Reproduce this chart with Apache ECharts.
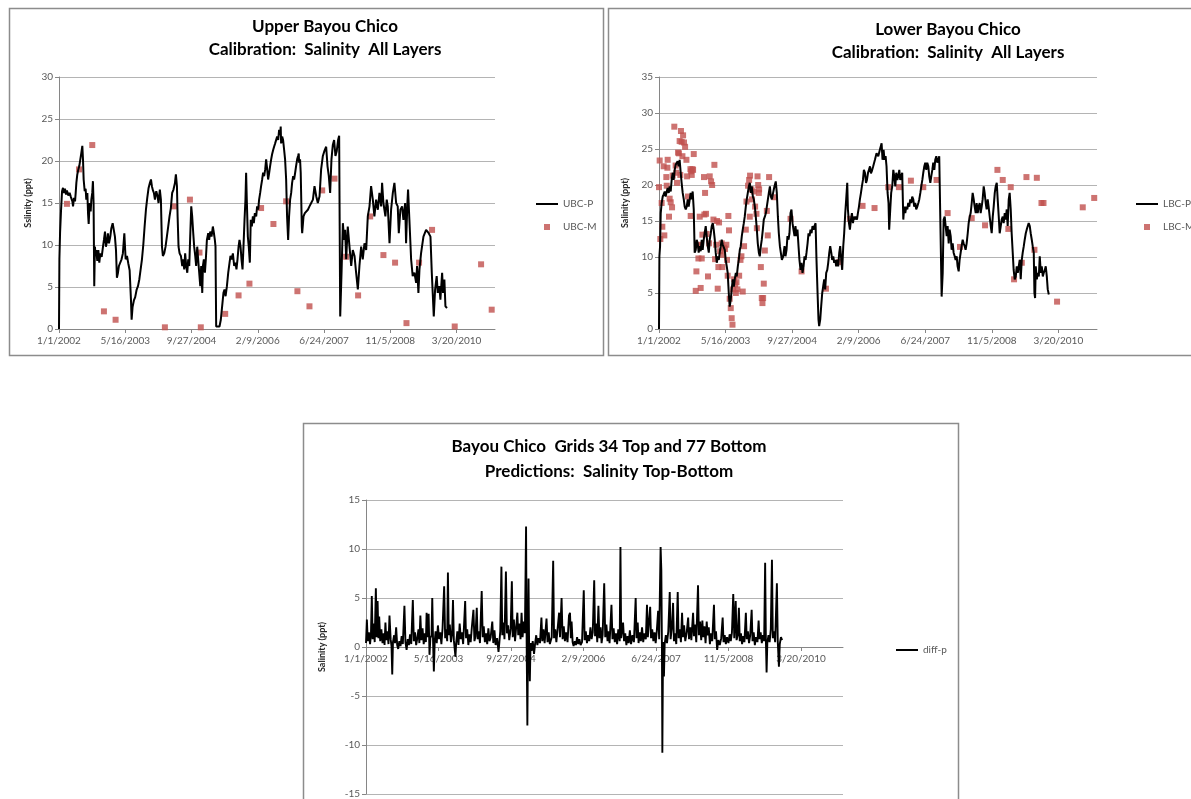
<!DOCTYPE html>
<html>
<head>
<meta charset="utf-8">
<script src="https://cdn.jsdelivr.net/npm/echarts@6/dist/echarts.min.js"></script>
<style>
html,body{margin:0;padding:0;background:#fff;}
#chart{width:1191px;height:799px;}
</style>
</head>
<body>
<div id="chart"></div>
<script>
// x values are days counted from 1/1/2002
const START_DATE = Date.UTC(2002, 0, 1);
const DATE_TICKS = [0, 500, 1000, 1500, 2000, 2500, 3000];
const DAY_MAX = 3290;

// Upper Bayou Chico: predicted salinity (ppt)
const ubcP = [
[0,0],[3,8.3],[8,11.4],[15,14.0],[23,16.4],[30,16.8],[38,16.2],[45,16.7],[53,16.0],[60,16.5],[70,15.9],[80,16.2],[90,15.7],[101,15.2],[106,14.6],[113,15.6],[121,15.2],[126,16.2],[131,17.4],[138,18.4],[146,19.0],[153,19.4],[161,20.2],[168,20.9],[176,21.8],[181,20.2],[186,17.8],[194,16.4],[201,16.7],[206,15.4],[214,16.2],[219,13.8],[224,12.5],[231,15.0],[239,14.0],[244,15.4],[251,16.2],[256,17.6],[261,15.0],[266,5.1],[271,9.8],[276,8.7],[281,9.4],[289,8.1],[297,9.4],[304,7.9],[312,9.0],[322,8.6],[332,9.8],[339,10.6],[347,11.6],[354,9.8],[362,10.4],[369,11.4],[377,10.2],[387,11.0],[395,12.0],[405,12.6],[412,12.4],[422,11.0],[430,9.4],[437,6.1],[445,6.7],[452,7.5],[462,7.3],[472,8.3],[482,9.0],[493,11.4],[498,9.8],[503,8.3],[513,8.7],[523,7.8],[533,7.0],[543,3.5],[548,1.1],[555,2.6],[565,3.4],[575,3.8],[586,4.7],[596,5.1],[606,5.9],[616,7.1],[626,8.3],[636,10.0],[646,12.2],[656,14.2],[666,15.6],[676,16.8],[686,17.4],[694,17.8],[701,17.0],[709,16.5],[716,16.2],[724,15.4],[734,16.4],[744,15.8],[751,15.0],[761,16.6],[769,15.4],[777,9.8],[784,8.7],[794,9.0],[804,9.8],[814,11.0],[824,12.2],[834,13.4],[844,14.4],[854,16.2],[864,16.6],[875,17.4],[882,18.4],[890,17.0],[895,13.4],[902,9.8],[910,9.0],[920,8.7],[930,7.5],[937,8.3],[945,7.1],[952,9.0],[960,7.5],[968,6.7],[975,8.3],[983,7.5],[990,11.0],[998,14.6],[1005,13.4],[1013,11.4],[1020,9.8],[1028,8.7],[1035,7.5],[1043,9.8],[1050,8.3],[1058,6.7],[1066,5.1],[1073,7.5],[1081,4.3],[1086,7.5],[1093,8.3],[1101,6.7],[1108,8.3],[1116,10.6],[1126,11.4],[1133,10.6],[1141,11.6],[1151,11.0],[1161,12.2],[1169,11.4],[1176,10.6],[1181,9.8],[1186,0.3],[1199,0.1],[1211,0.3],[1221,1.1],[1231,2.7],[1241,4.3],[1249,4.7],[1257,3.9],[1267,5.1],[1277,6.7],[1287,7.9],[1294,8.7],[1304,8.3],[1312,9.0],[1322,7.5],[1332,7.9],[1339,7.1],[1347,8.3],[1355,9.8],[1362,10.6],[1370,9.8],[1377,8.3],[1385,7.1],[1392,9.8],[1400,13.0],[1407,15.4],[1412,18.6],[1417,15.4],[1425,11.0],[1432,9.8],[1440,7.9],[1447,13.0],[1455,12.2],[1463,13.4],[1470,12.6],[1478,13.8],[1488,13.4],[1495,14.6],[1503,14.2],[1510,15.4],[1518,16.2],[1525,17.0],[1533,17.8],[1540,18.6],[1548,18.2],[1556,19.0],[1563,20.2],[1571,19.0],[1578,17.8],[1586,18.6],[1593,19.4],[1601,20.2],[1608,20.8],[1616,21.3],[1623,21.7],[1631,22.1],[1638,21.9],[1646,22.9],[1654,22.5],[1661,23.7],[1669,23.1],[1673,24.1],[1676,22.1],[1684,22.9],[1691,22.5],[1699,21.3],[1706,20.2],[1714,17.8],[1721,13.4],[1729,10.6],[1736,13.4],[1744,15.4],[1752,16.2],[1759,17.4],[1767,18.2],[1774,17.8],[1782,18.6],[1789,19.4],[1797,20.2],[1804,20.6],[1809,20.9],[1812,19.8],[1819,20.2],[1824,18.6],[1832,12.2],[1835,11.4],[1845,13.4],[1855,13.8],[1865,13.6],[1878,14.2],[1890,14.6],[1903,15.0],[1916,15.4],[1928,17.0],[1941,15.8],[1953,15.0],[1966,15.8],[1978,19.0],[1991,20.6],[2003,21.2],[2016,21.7],[2026,19.4],[2036,18.2],[2046,16.2],[2056,20.2],[2066,21.9],[2076,22.5],[2086,20.6],[2096,21.2],[2106,22.5],[2114,23.0],[2122,1.5],[2132,6.7],[2142,12.6],[2152,10.6],[2159,11.8],[2167,8.3],[2179,12.2],[2192,9.8],[2205,7.5],[2217,9.4],[2230,8.7],[2242,6.7],[2255,4.7],[2267,7.5],[2280,9.8],[2292,8.3],[2305,10.2],[2318,9.4],[2330,13.4],[2343,14.6],[2355,17.0],[2368,15.4],[2380,13.4],[2393,15.4],[2406,14.2],[2418,16.2],[2431,14.6],[2438,17.4],[2448,15.0],[2463,13.4],[2473,15.4],[2481,14.6],[2494,10.2],[2506,14.2],[2519,16.2],[2531,17.4],[2544,15.0],[2556,14.6],[2564,11.4],[2576,14.2],[2589,14.6],[2599,13.0],[2612,15.0],[2619,10.2],[2629,15.0],[2634,16.6],[2644,13.0],[2657,8.3],[2669,6.3],[2682,6.7],[2695,5.5],[2702,7.5],[2712,4.3],[2720,7.1],[2732,9.0],[2750,11.0],[2770,11.8],[2790,11.4],[2803,11.0],[2813,6.7],[2820,4.3],[2828,1.5],[2838,4.7],[2850,6.3],[2858,4.3],[2870,5.1],[2878,3.5],[2891,6.7],[2898,4.3],[2908,5.9],[2916,2.7],[2928,2.5]
];

// Upper Bayou Chico: measured salinity (ppt)
const ubcM = [
[60,14.9],[151,19.0],[251,21.9],[339,2.1],[427,1.1],[799,0.2],[867,14.6],[988,15.4],[1060,9.1],[1070,0.2],[1254,1.8],[1355,4.0],[1437,5.4],[1525,14.4],[1618,12.5],[1714,15.2],[1799,4.5],[1890,2.7],[1986,16.5],[2079,17.9],[2167,8.6],[2257,4.0],[2348,13.4],[2448,8.8],[2536,7.9],[2622,0.7],[2717,7.9],[2815,11.8],[2986,0.3],[3185,7.7],[3265,2.3]
];

// Lower Bayou Chico: predicted salinity (ppt)
const lbcP = [
[0,0],[3,10.1],[8,11.5],[13,16.1],[20,17.5],[28,18.4],[35,18.7],[43,19.1],[50,18.4],[58,19.1],[65,19.6],[73,18.9],[80,19.8],[88,19.1],[95,20.7],[103,21.7],[110,20.7],[118,22.1],[125,22.8],[133,22.6],[140,23.3],[148,22.6],[155,23.5],[163,21.7],[170,20.3],[178,18.9],[186,18.0],[193,17.0],[201,16.6],[208,17.0],[216,18.0],[223,17.0],[231,18.0],[238,18.9],[246,18.0],[253,19.1],[261,16.6],[268,10.6],[276,11.0],[283,12.4],[291,11.9],[298,10.6],[306,11.5],[313,10.8],[321,12.4],[328,11.0],[336,12.4],[343,13.3],[351,14.3],[358,12.9],[366,11.5],[374,10.6],[381,12.4],[389,13.3],[396,14.3],[404,14.7],[411,13.8],[419,12.4],[426,10.6],[434,9.2],[441,10.1],[449,9.6],[456,10.6],[464,11.5],[471,12.4],[479,11.7],[486,11.5],[494,11.0],[501,9.6],[509,8.7],[516,7.8],[524,5.0],[531,3.1],[539,4.1],[546,5.5],[554,6.9],[562,5.9],[569,6.9],[577,7.8],[584,7.3],[592,8.7],[599,9.6],[607,11.0],[614,11.5],[622,12.9],[629,13.8],[637,14.7],[644,15.6],[652,17.0],[659,18.0],[667,18.9],[675,19.8],[682,20.3],[690,18.9],[697,19.8],[705,18.4],[712,18.0],[720,17.0],[727,15.6],[735,13.8],[742,11.9],[750,10.6],[757,10.1],[765,11.5],[772,12.4],[780,13.8],[787,15.2],[795,15.6],[803,16.1],[810,17.0],[818,18.0],[825,18.9],[833,19.8],[840,18.4],[848,18.0],[857,18.9],[867,19.8],[877,20.5],[885,18.9],[893,15.6],[900,13.3],[908,11.5],[915,10.6],[923,9.6],[933,10.1],[943,11.5],[950,10.1],[958,11.0],[965,12.9],[973,12.4],[980,13.3],[988,16.1],[995,16.6],[1003,14.7],[1010,13.8],[1018,12.9],[1025,14.3],[1033,12.9],[1040,13.8],[1048,11.5],[1055,9.6],[1063,8.2],[1070,9.2],[1078,7.8],[1086,8.7],[1093,10.1],[1101,9.6],[1108,10.6],[1116,11.9],[1123,13.3],[1131,12.9],[1138,13.8],[1146,13.3],[1153,14.3],[1161,13.8],[1168,14.3],[1176,14.7],[1183,9.6],[1191,5.0],[1198,1.3],[1203,0.4],[1211,1.3],[1218,3.1],[1226,5.0],[1233,5.9],[1241,6.9],[1248,5.5],[1256,7.8],[1264,8.2],[1271,9.2],[1279,10.6],[1286,11.5],[1294,10.6],[1301,9.6],[1309,10.1],[1316,9.2],[1324,9.6],[1331,8.7],[1339,9.6],[1346,8.7],[1354,10.6],[1361,11.5],[1369,9.6],[1376,8.2],[1384,11.5],[1391,13.3],[1399,16.1],[1406,18.0],[1414,20.3],[1419,16.6],[1427,14.7],[1434,13.8],[1442,15.2],[1449,16.1],[1457,14.7],[1464,15.6],[1472,15.2],[1479,15.6],[1487,15.2],[1494,16.1],[1502,17.0],[1509,18.0],[1517,18.9],[1524,19.8],[1532,20.7],[1539,22.1],[1547,21.7],[1555,20.3],[1562,20.7],[1570,21.7],[1577,22.1],[1585,22.6],[1592,21.6],[1600,22.0],[1609,22.6],[1622,23.5],[1634,24.4],[1647,24.0],[1659,24.9],[1672,25.8],[1679,23.5],[1687,24.9],[1694,23.5],[1702,24.0],[1709,22.6],[1717,18.9],[1724,17.5],[1729,13.8],[1737,16.6],[1744,18.9],[1752,19.8],[1760,22.1],[1767,21.2],[1775,19.8],[1782,21.7],[1790,20.7],[1797,21.2],[1805,22.1],[1812,20.7],[1820,21.2],[1827,21.7],[1835,15.2],[1842,17.0],[1850,16.1],[1857,17.0],[1865,16.6],[1872,17.5],[1880,17.0],[1887,18.0],[1895,17.5],[1902,18.4],[1910,18.0],[1917,17.0],[1925,17.5],[1932,16.6],[1940,17.0],[1948,17.5],[1955,18.0],[1963,18.9],[1970,19.8],[1978,20.7],[1985,21.7],[1993,22.6],[2000,23.1],[2008,22.1],[2015,23.1],[2023,22.6],[2030,21.2],[2038,20.3],[2045,21.2],[2053,22.1],[2060,23.1],[2068,22.1],[2075,23.5],[2083,24.0],[2090,23.1],[2098,23.5],[2105,24.0],[2115,24.2],[2123,4.5],[2131,7.8],[2138,15.2],[2146,15.6],[2153,14.3],[2161,12.9],[2168,14.3],[2176,11.9],[2183,13.8],[2191,12.9],[2198,11.0],[2206,11.9],[2213,10.6],[2221,10.1],[2228,9.6],[2236,10.1],[2243,8.7],[2251,8.0],[2258,9.6],[2266,10.6],[2273,11.5],[2281,12.4],[2288,11.9],[2296,11.5],[2303,11.0],[2311,11.9],[2319,13.3],[2326,14.7],[2334,15.6],[2341,16.1],[2349,17.5],[2356,18.9],[2364,18.0],[2371,17.0],[2379,16.1],[2386,17.5],[2394,16.1],[2401,17.0],[2409,17.5],[2416,16.1],[2424,17.0],[2431,18.0],[2439,19.8],[2446,18.9],[2454,17.5],[2461,16.6],[2469,18.0],[2476,17.0],[2484,15.6],[2492,14.3],[2499,13.3],[2507,15.6],[2514,17.0],[2522,18.9],[2529,19.8],[2537,20.3],[2544,18.0],[2552,15.6],[2559,13.3],[2567,14.3],[2574,15.2],[2582,15.6],[2589,14.7],[2597,16.1],[2604,15.2],[2612,16.6],[2619,14.3],[2627,18.0],[2634,18.9],[2642,16.6],[2649,13.3],[2657,10.6],[2664,8.2],[2672,6.9],[2680,7.3],[2687,8.7],[2695,7.8],[2702,8.7],[2710,9.6],[2717,6.9],[2725,9.6],[2732,10.6],[2740,11.5],[2747,12.4],[2755,13.3],[2762,13.8],[2770,14.3],[2777,14.7],[2785,14.3],[2792,13.3],[2800,12.4],[2807,11.5],[2815,10.6],[2820,5.0],[2825,4.3],[2830,8.7],[2838,6.9],[2845,7.8],[2853,7.3],[2860,10.1],[2868,7.8],[2875,8.7],[2883,7.3],[2890,7.8],[2898,8.2],[2905,8.7],[2913,7.3],[2920,5.5],[2928,4.8]
];

// Lower Bayou Chico: measured salinity (ppt)
const lbcM = [
[0,19.7],[5,23.4],[10,12.5],[20,17.5],[25,14.2],[35,22.6],[40,13.0],[55,21.1],[58,19.9],[63,22.4],[65,23.5],[75,15.6],[80,18.1],[88,17.6],[98,16.9],[103,21.3],[115,28.1],[125,22.7],[130,21.7],[135,20.3],[143,24.5],[150,24.4],[155,26.1],[160,21.4],[165,27.5],[170,26.0],[176,24.0],[181,26.9],[188,25.9],[196,25.3],[206,23.5],[211,21.2],[218,18.4],[236,22.2],[238,15.7],[241,21.9],[246,21.4],[251,22.2],[256,22.1],[261,24.3],[276,5.3],[281,8.0],[293,11.7],[296,9.8],[301,11.6],[306,15.6],[313,5.7],[321,9.8],[326,13.1],[338,21.1],[341,15.9],[346,18.9],[353,16.0],[358,13.2],[368,7.3],[376,11.9],[381,21.2],[391,20.5],[399,20.0],[409,15.2],[416,22.8],[421,9.7],[429,11.7],[436,15.0],[441,5.6],[446,8.6],[451,14.8],[459,10.8],[471,11.9],[476,8.6],[481,10.3],[489,11.3],[496,11.1],[506,11.7],[511,9.6],[516,7.4],[521,15.7],[526,13.7],[531,4.2],[539,2.9],[546,1.5],[552,0.6],[557,5.5],[564,6.9],[572,6.2],[577,5.0],[582,6.5],[589,5.5],[602,7.4],[612,9.6],[619,10.1],[629,5.2],[639,11.5],[652,13.8],[657,17.7],[669,19.9],[677,20.7],[682,15.6],[684,21.3],[694,19.4],[699,18.0],[712,19.1],[722,17.0],[732,16.0],[735,14.0],[740,21.2],[745,20.0],[750,18.9],[752,19.4],[765,8.6],[772,4.3],[777,3.6],[782,4.3],[787,6.3],[795,10.9],[810,16.4],[817,13.0],[827,21.1],[867,18.3],[988,15.3],[1071,8.0],[1254,5.6],[1354,9.3],[1434,15.3],[1529,17.1],[1619,16.8],[1722,19.7],[1802,19.7],[1892,20.6],[1985,19.7],[2085,20.7],[2168,16.1],[2261,11.4],[2349,15.4],[2449,14.4],[2542,22.1],[2582,20.7],[2624,13.9],[2642,19.7],[2667,6.9],[2725,9.2],[2760,21.1],[2820,11.0],[2838,21.0],[2873,17.5],[2888,17.5],[2990,3.8],[3183,16.9],[3269,18.2]
];

// Grids 34 (top) minus 77 (bottom): predicted salinity difference (ppt)
const diffP = [
[0,0.4],[6,2.8],[12,0.6],[20,1.5],[28,0.3],[34,1.2],[40,5.2],[46,0.8],[54,2.4],[60,0.5],[68,6.0],[74,1.0],[80,4.7],[86,0.9],[91,3.1],[98,0.6],[106,1.8],[114,0.4],[122,1.4],[128,0.2],[134,2.5],[140,0.7],[148,1.6],[155,0.3],[162,3.2],[170,0.8],[176,0.1],[181,-2.8],[186,0.5],[194,1.2],[200,0.4],
[208,2.0],[215,0.2],[222,-0.2],[230,0.6],[238,0.1],[246,1.1],[254,0.3],[265,4.2],[272,0.5],[280,-0.3],[288,0.8],[296,0.2],[304,1.3],[312,0.3],[323,4.8],[330,0.6],[338,1.5],[346,0.2],[354,0.9],[362,1.8],[368,0.4],[375,3.2],[382,0.7],[390,1.9],[398,0.3],[406,1.4],[413,0.5],[418,3.5],[424,1.0],[432,3.4],[438,-0.8],[444,0.9],[452,1.2],[457,5.0],[463,0.3],[468,-2.5],[474,0.6],[480,1.6],
[488,0.4],[496,2.2],[504,0.8],[512,1.5],[520,0.3],[528,1.9],[539,6.2],[546,0.9],[552,1.8],[560,0.6],[565,7.6],[571,1.2],[578,2.3],[586,0.5],[594,1.4],[600,4.8],[606,0.7],[617,-1.0],[622,0.4],[630,1.6],[638,0.2],[646,2.4],[654,0.8],[662,1.5],[670,0.3],[684,4.7],[690,0.9],[698,1.8],[706,0.2],[714,1.3],[722,0.5],[730,2.0],[741,3.8],[748,0.6],[755,1.1],[764,4.0],[770,0.8],[778,1.6],[786,0.4],[798,5.7],[805,1.0],[812,2.1],[820,0.5],[828,1.4],[836,0.3],[844,1.9],[852,0.6],[860,1.0],[871,2.6],[878,0.4],[886,1.7],[894,0.2],[904,0.9],[914,-0.5],[920,0.5],[926,1.6],[934,8.2],[940,1.2],[948,2.5],[955,0.8],[965,7.7],[972,1.4],[980,2.2],[988,0.7],[998,1.9],[1006,6.7],[1012,1.0],[1020,2.8],[1028,0.6],[1044,3.5],[1050,1.2],[1058,2.4],[1066,0.8],[1073,3.5],[1080,1.0],[1088,2.6],[1096,1.4],[1104,12.3],[1108,0.5],[1113,-8.0],[1118,2.0],[1121,7.0],[1125,0.2],[1130,-3.5],[1135,0.4],[1142,-0.4],
[1150,0.6],[1159,-0.7],[1166,0.3],[1174,1.2],[1182,0.2],[1190,0.9],[1200,0.4],[1210,3.0],[1216,0.6],[1224,1.8],[1232,0.4],[1245,2.9],[1252,0.5],[1260,1.5],[1268,0.3],[1281,1.0],[1291,8.8],[1297,0.9],[1305,1.8],[1313,0.5],[1332,3.5],[1338,1.0],[1349,5.0],[1356,0.8],[1364,2.1],[1372,0.6],[1380,1.5],[1390,0.5],[1400,3.2],[1407,3.5],[1413,0.9],[1418,2.6],[1425,0.5],[1432,0.1],[1440,0.6],[1448,0.2],[1456,1.0],[1464,0.3],[1472,0.8],[1480,0.2],[1490,0.5],[1502,5.8],[1508,0.7],[1516,1.6],[1524,0.4],[1532,1.2],[1540,0.6],[1548,2.0],[1556,0.8],[1564,1.5],[1574,6.8],[1580,1.1],[1588,2.4],[1595,0.5],[1603,4.2],[1610,0.9],[1618,2.0],[1625,0.4],[1632,1.2],[1643,6.5],[1650,1.0],[1658,2.3],[1666,0.6],[1672,1.6],[1680,0.4],[1693,4.3],[1700,0.8],[1708,1.9],[1716,0.5],[1724,1.4],[1732,0.3],[1740,1.8],[1750,0.6],[1755,10.2],[1760,0.9],[1773,2.5],[1780,0.6],[1788,1.4],[1796,0.2],[1804,1.1],[1812,0.4],[1820,1.7],[1828,0.3],[1838,1.2],[1848,0.5],[1860,5.0],[1866,0.9],[1874,2.5],[1880,0.4],[1888,1.5],[1896,0.6],[1904,2.0],[1912,0.5],[1920,1.4],[1930,0.8],[1938,4.3],[1944,1.0],[1950,2.2],[1960,4.1],[1966,0.9],[1974,1.8],[1982,0.6],[1990,1.5],
[1998,0.4],[2006,1.7],[2015,3.7],[2022,0.8],[2032,10.2],[2037,7.8],[2041,0.2],[2044,-10.8],[2049,0.5],[2055,-3.0],[2060,0.3],[2068,1.2],[2076,0.4],[2085,1.6],[2095,5.6],[2101,0.8],[2110,2.0],[2118,4.5],[2124,0.6],[2132,1.4],[2140,0.3],[2150,5.6],[2156,0.9],[2164,1.8],[2172,0.5],[2180,3.5],[2186,1.0],[2194,2.2],[2202,0.6],[2212,1.5],[2222,3.0],[2228,0.8],[2236,2.0],[2244,0.7],[2256,3.5],[2262,1.1],[2270,2.3],[2278,0.5],[2290,6.3],[2296,1.2],[2304,2.6],[2312,0.7],[2320,2.7],[2326,1.0],[2334,2.1],[2342,0.4],[2350,2.6],[2356,1.2],[2364,2.0],[2372,0.3],[2380,1.4],[2388,0.6],[2400,4.3],[2406,0.8],[2414,1.6],[2422,-0.3],[2430,0.7],[2440,0.2],[2450,0.9],[2460,3.0],[2466,0.5],[2474,1.2],[2482,0.3],[2490,1.0],[2500,0.4],[2508,1.3],[2516,0.6],[2524,1.5],[2533,5.4],[2540,0.9],[2550,4.7],[2556,0.7],[2564,1.2],[2572,4.0],[2578,0.6],[2586,1.4],[2594,0.3],[2602,1.1],[2610,0.5],[2620,3.5],[2626,0.8],[2634,1.6],[2642,0.4],[2650,1.2],[2660,3.8],[2666,0.6],[2674,1.5],[2682,0.2],[2690,1.0],[2700,0.5],[2708,2.7],[2714,0.8],[2722,1.5],[2730,0.4],[2738,1.2],[2746,0.6],[2753,8.6],[2758,0.8],[2763,-2.6],[2768,0.4],[2776,1.2],[2784,0.5],[2792,1.8],[2800,8.9],[2806,0.9],[2814,1.6],[2822,0.5],[2834,6.5],[2840,0.6],[2848,-2.0],[2854,0.3],[2862,1.0],[2870,0.7]
];

const FONT = 'Lato, "DejaVu Sans", sans-serif';
const TEXT_GREY = '#595959';
const AXIS_GREY = '#868686';
const GRID_GREY = '#b4b4b4';
const MEASURED_RED = '#c0504d';
const LINE_ICON = 'path://M0,0L22,0L22,2L0,2Z';
const SQUARE_ICON = 'path://M0,0L6,0L6,6L0,6Z';

// bottom grid: y from -15 to 15, so the zero line sits half way down
const DIFF_GRID = { left: 366, top: 500, width: 477, height: 294 };

function dayLabel(d) {
  const t = new Date(START_DATE + d * 86400000);
  return (t.getUTCMonth() + 1) + '/' + t.getUTCDate() + '/' + t.getUTCFullYear();
}

function dateAxis(gridIndex, offset) {
  return {
    type: 'value', gridIndex: gridIndex, min: 0, max: DAY_MAX, interval: 500,
    position: 'bottom', offset: offset,
    splitLine: { show: false },
    axisLine: { show: true, onZero: false, lineStyle: { color: AXIS_GREY, width: 1 } },
    axisTick: { show: true, customValues: DATE_TICKS, length: 4, lineStyle: { color: AXIS_GREY } },
    axisLabel: { customValues: DATE_TICKS, formatter: dayLabel, color: TEXT_GREY, fontFamily: FONT, fontSize: 10, margin: 7 }
  };
}

function salinityAxis(gridIndex, min, max, name, nameGap) {
  return {
    type: 'value', gridIndex: gridIndex, min: min, max: max, interval: 5,
    name: name, nameLocation: 'middle', nameGap: nameGap, nameRotate: 90,
    nameTextStyle: { fontFamily: FONT, fontWeight: 'bold', fontSize: 9, color: '#262626' },
    splitLine: { show: true, lineStyle: { color: GRID_GREY, width: 1 } },
    axisLine: { show: true, onZero: false, lineStyle: { color: AXIS_GREY, width: 1 } },
    axisTick: { show: true, length: 4, lineStyle: { color: AXIS_GREY } },
    axisLabel: { color: TEXT_GREY, fontFamily: FONT, fontSize: 10, margin: 6 }
  };
}

function titleBlock(text, x, top, lineHeight) {
  return {
    text: text, left: x, top: top, textAlign: 'center', padding: 0,
    textStyle: { fontFamily: FONT, fontWeight: 'bold', fontSize: 17, lineHeight: lineHeight, color: '#000' }
  };
}

function legendBlock(left, top, names) {
  return {
    orient: 'vertical', left: left, top: top, itemWidth: 22, itemHeight: 6, itemGap: 13,
    selectedMode: false, padding: 0,
    textStyle: { fontFamily: FONT, fontSize: 10, color: TEXT_GREY },
    data: names
  };
}

const chart = echarts.init(document.getElementById('chart'), null, { renderer: 'canvas' });

chart.setOption({
  animation: false,
  backgroundColor: '#fff',
  title: [
    titleBlock('Upper Bayou Chico\nCalibration:  Salinity  All Layers', 325, 15, 23),
    titleBlock('Lower Bayou Chico\nCalibration:  Salinity  All Layers', 948, 18, 23),
    titleBlock('Bayou Chico  Grids 34 Top and 77 Bottom\nPredictions:  Salinity Top-Bottom', 609, 434, 25)
  ],
  legend: [
    legendBlock(536, 199, [
      { name: 'UBC-P', icon: LINE_ICON, itemStyle: { color: '#000' } },
      { name: 'UBC-M', icon: SQUARE_ICON, itemStyle: { color: MEASURED_RED } }
    ]),
    legendBlock(1136, 199, [
      { name: 'LBC-P', icon: LINE_ICON, itemStyle: { color: '#000' } },
      { name: 'LBC-M', icon: SQUARE_ICON, itemStyle: { color: MEASURED_RED } }
    ]),
    legendBlock(896, 645, [
      { name: 'diff-p', icon: LINE_ICON, itemStyle: { color: '#000' } }
    ])
  ],
  grid: [
    { left: 59, top: 77, width: 436, height: 252, outerBoundsMode: 'none' },
    { left: 659, top: 77, width: 438, height: 252, outerBoundsMode: 'none' },
    Object.assign({ outerBoundsMode: 'none' }, DIFF_GRID)
  ],
  xAxis: [dateAxis(0, 0), dateAxis(1, 0), dateAxis(2, -DIFF_GRID.height / 2)],
  yAxis: [
    salinityAxis(0, 0, 30, 'Sslinity (ppt)', 26),
    salinityAxis(1, 0, 35, 'Salinity (ppt)', 29),
    salinityAxis(2, -15, 15, 'Salinity (ppt)', 39)
  ],
  graphic: [
    { type: 'rect', z: -10, shape: { x: 9.5, y: 8.5, width: 594, height: 347 }, style: { fill: 'none', stroke: '#8c8c8c', lineWidth: 1.5 } },
    { type: 'rect', z: -10, shape: { x: 608.5, y: 8.5, width: 590, height: 347 }, style: { fill: 'none', stroke: '#8c8c8c', lineWidth: 1.5 } },
    { type: 'rect', z: -10, shape: { x: 303.5, y: 423.5, width: 655, height: 420 }, style: { fill: 'none', stroke: '#8c8c8c', lineWidth: 1.5 } }
  ],
  series: [
    { name: 'UBC-P', type: 'line', xAxisIndex: 0, yAxisIndex: 0, data: ubcP, symbol: 'none', showSymbol: false,
      lineStyle: { color: '#000', width: 2 }, itemStyle: { color: '#000' } },
    { name: 'UBC-M', type: 'scatter', xAxisIndex: 0, yAxisIndex: 0, data: ubcM, symbol: 'rect', symbolSize: 6,
      itemStyle: { color: MEASURED_RED } },
    { name: 'LBC-P', type: 'line', xAxisIndex: 1, yAxisIndex: 1, data: lbcP, symbol: 'none', showSymbol: false,
      lineStyle: { color: '#000', width: 2 }, itemStyle: { color: '#000' } },
    { name: 'LBC-M', type: 'scatter', xAxisIndex: 1, yAxisIndex: 1, data: lbcM, symbol: 'rect', symbolSize: 6,
      itemStyle: { color: MEASURED_RED } },
    { name: 'diff-p', type: 'line', xAxisIndex: 2, yAxisIndex: 2, data: diffP, symbol: 'none', showSymbol: false,
      lineStyle: { color: '#000', width: 1.9 }, itemStyle: { color: '#000' } }
  ]
});
</script>
</body>
</html>
